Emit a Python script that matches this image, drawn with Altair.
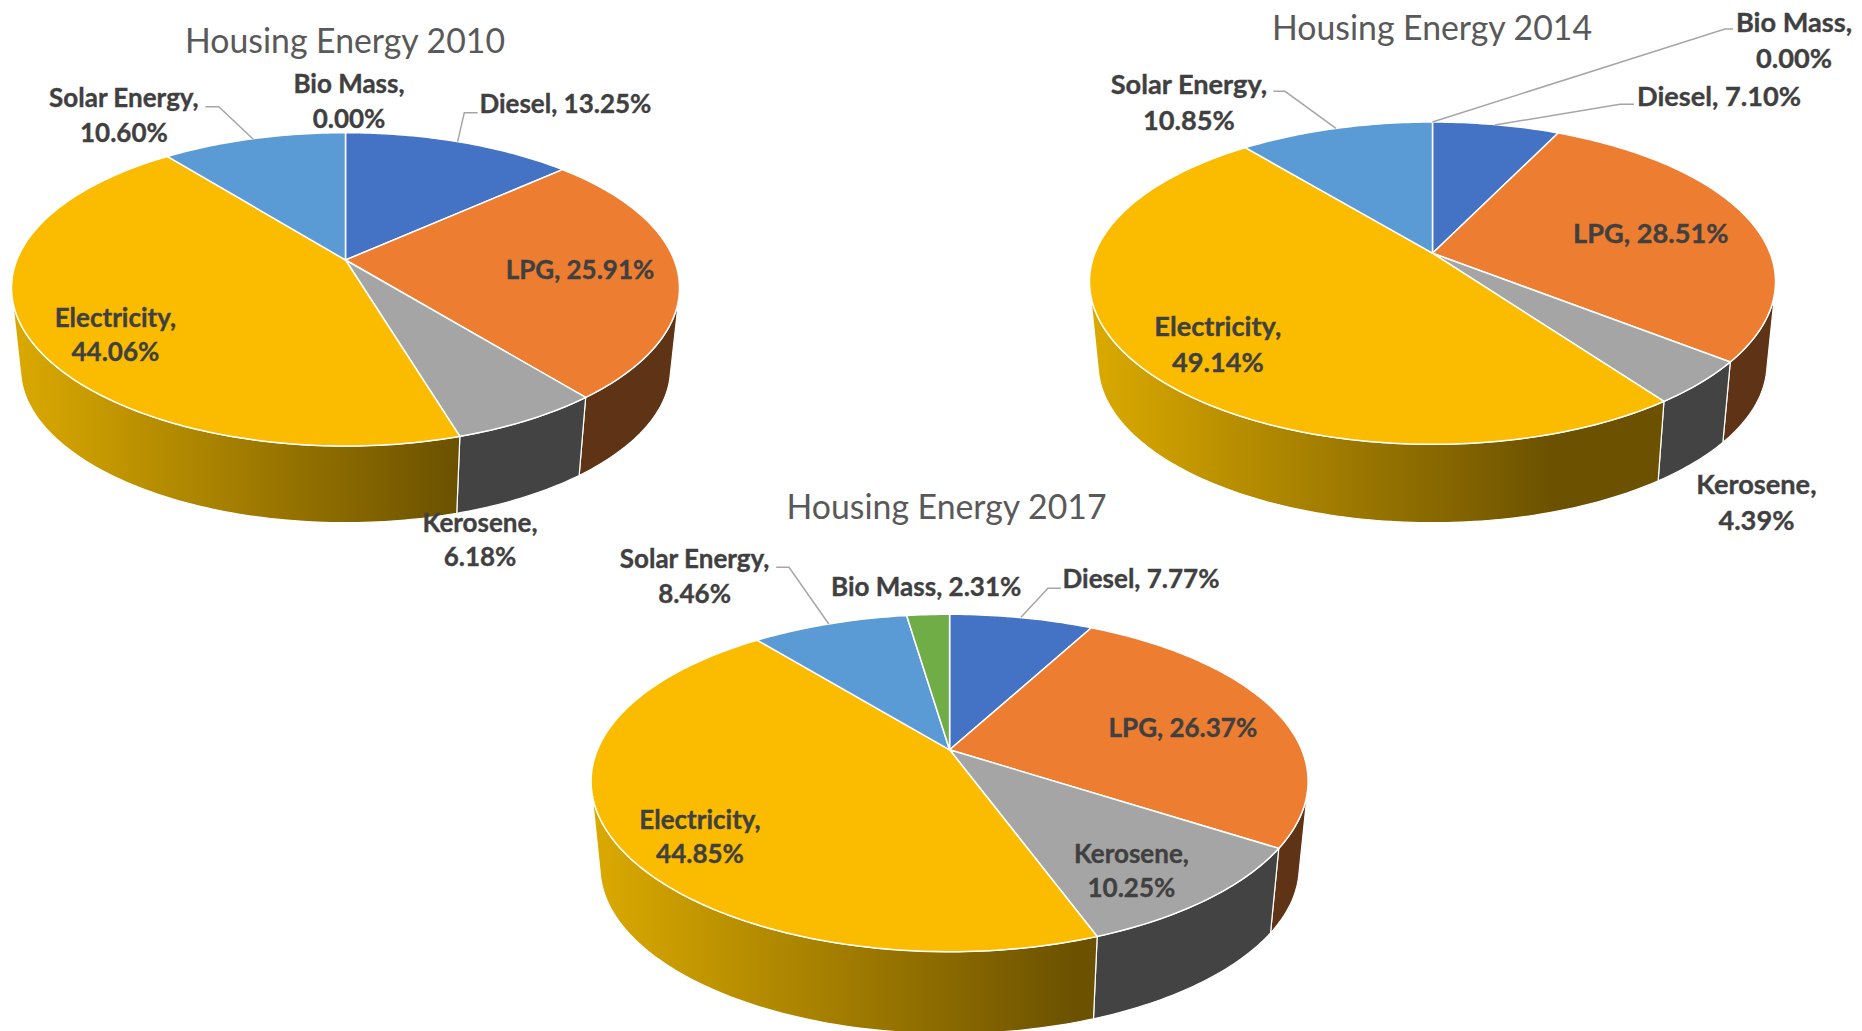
import math
import altair as alt

categories = ["Diesel", "LPG", "Kerosene", "Electricity", "Solar Energy", "Bio Mass"]
v2010 = [13.25, 25.91, 6.18, 44.06, 10.60, 0.00]
v2014 = [7.10, 28.51, 4.39, 49.14, 10.85, 0.00]
v2017 = [7.77, 26.37, 10.25, 44.85, 8.46, 2.31]
top_colors = ["#4472C4", "#ED7D31", "#A5A5A5", "#FBBC00", "#5B9BD5", "#70AD47"]
wall_colors = ["#223962", "#5F3315", "#434343", "#B58A00", "#2E4E6B", "#385723"]

# geometry of the three tilted pies, in page pixels
pies = [
    dict(values=v2010, ax=345.5, ay=260.0, top=132.7, bot=446.0, hw=334.0, f=0.973, dy=81.7, dark=0.68),
    dict(values=v2014, ax=1432.5, ay=253.2, top=122.0, bot=444.3, hw=343.0, f=0.975, dy=83.2, dark=0.68),
    dict(values=v2017, ax=949.6, ay=749.8, top=614.3, bot=951.7, hw=358.5, f=0.975, dy=87.0, dark=0.68),
]

titles = ["Housing Energy 2010", "Housing Energy 2014", "Housing Energy 2017"]
title_x = [345, 1432, 946.5]
title_y = [53, 40, 519]

labels_2010 = ["Solar Energy,\n10.60%", "Bio Mass,\n0.00%", "Diesel, 13.25%", "LPG, 25.91%", "Electricity,\n44.06%", "Kerosene,\n6.18%"]
labels_2014 = ["Solar Energy,\n10.85%", "Bio Mass,\n0.00%", "Diesel, 7.10%", "LPG, 28.51%", "Electricity,\n49.14%", "Kerosene,\n4.39%"]
labels_2017 = ["Solar Energy,\n8.46%", "Bio Mass, 2.31%", "Diesel, 7.77%", "LPG, 26.37%", "Electricity,\n44.85%", "Kerosene,\n10.25%"]
x_2010 = [123.9, 349, 565.4, 580, 115.4, 480]
x_2014 = [1188.9, 1794.0, 1719, 1650.8, 1217.8, 1756.4]
x_2017 = [694.6, 926.2, 1141, 1182.9, 700, 1131.4]
y_2010 = [107, 93.3, 112.7, 278.5, 326.7, 531.7]
y_2014 = [93.5, 31.5, 106, 243.3, 336, 493.5]
y_2017 = [568.3, 596, 588.3, 736.7, 828.7, 862.7]
label_groups = [
    (labels_2010, x_2010, y_2010, 26.0, 34.5),
    (labels_2014, x_2014, y_2014, 27.2, 36.0),
    (labels_2017, x_2017, y_2017, 26.0, 34.5),
]

leaders = [
    [(205.4, 106.7), (218.8, 106.7), (253, 139)],
    [(477.7, 112.7), (464.3, 112.7), (457.6, 141.7)],
    [(1273.3, 91.3), (1285, 91.3), (1336, 128.3)],
    [(1733, 29), (1725, 29), (1432.4, 122)],
    [(1634, 104.3), (1620, 104.3), (1494.8, 125)],
    [(776.2, 567.3), (789, 567.3), (828.8, 624)],
    [(1060.9, 588.3), (1048, 588.3), (1021, 617.3)],
]


def rim_point(p, angle):
    T = p["ay"] - p["top"]
    B = p["bot"] - p["ay"]
    c = (B - T) / (B + T)
    b = T * (1 + c)
    cx = 0.95 * c
    R = p["hw"] * math.sqrt(1 - cx * cx)
    u, v = math.sin(angle), math.cos(angle)
    return R * u / (1 + cx * v), -b * v / (1 + c * v)


def angles(a0, a1):
    n = max(2, int(math.degrees(a1 - a0)) + 1)
    return [a0 + (a1 - a0) * i / n for i in range(n + 1)]


def is_front(p, angle):
    """True where the side wall faces the viewer (rim tangent against extrusion)."""
    e = 1e-3
    x0, y0 = rim_point(p, angle - e)
    x1, y1 = rim_point(p, angle + e)
    xm, ym = rim_point(p, angle)
    sx = (p["f"] - 1) * xm
    sy = p["dy"] + (p["f"] - 1) * ym
    return (x1 - x0) * sy - (y1 - y0) * sx < 0


def feature(ring, fill):
    ring = [[round(x, 2), round(y, 2)] for x, y in ring]
    ring.append(ring[0])
    return {"type": "Feature", "properties": {"fill": fill},
            "geometry": {"type": "Polygon", "coordinates": [ring]}}


def pix(chart):
    return chart.project(type="identity", scale=1, translate=[-8, -8])


layers = []

for p in pies:
    total = sum(p["values"])
    a = 0.0
    walls, faces = [], []
    gold_wall = None
    for value, top_c, wall_c in zip(p["values"], top_colors, wall_colors):
        if value <= 0:
            continue
        a1 = a + 2 * math.pi * value / total
        ts = angles(a, a1)
        rim = [rim_point(p, t) for t in ts]
        upper = [(p["ax"] + x, p["ay"] + y) for x, y in rim]
        faces.append(feature([(p["ax"], p["ay"])] + upper, top_c))
        front = [rim_point(p, t) for t in ts if is_front(p, t)]
        if len(front) >= 2:
            up = [(p["ax"] + x, p["ay"] + y) for x, y in front]
            lo = [(p["ax"] + p["f"] * x, p["ay"] + p["dy"] + p["f"] * y) for x, y in front]
            wall = feature(up + lo[::-1], wall_c)
            if wall_c == "#B58A00":
                gold_wall = wall
                bbox_w = max(q[0] for q in up + lo) - min(q[0] for q in up + lo)
            else:
                walls.append(wall)
        a = a1
    stop = min(1.0, p["dark"] * 2 * p["hw"] / bbox_w)
    grad = alt.LinearGradient(
        gradient="linear", x1=0, x2=1, y1=0, y2=0,
        stops=[alt.GradientStop(color="#DBAA00", offset=0),
               alt.GradientStop(color="#6B5100", offset=stop),
               alt.GradientStop(color="#6B5100", offset=1)],
    )
    layers.append(pix(
        alt.Chart(alt.Data(values=walls)).mark_geoshape(stroke="white", strokeWidth=1.2)
        .encode(fill=alt.Fill("properties.fill:N", scale=None))
    ))
    layers.append(pix(
        alt.Chart(alt.Data(values=[gold_wall])).mark_geoshape(fill=grad, stroke="white", strokeWidth=1.2)
    ))
    layers.append(pix(
        alt.Chart(alt.Data(values=faces)).mark_geoshape(stroke="white", strokeWidth=1.5)
        .encode(fill=alt.Fill("properties.fill:N", scale=None))
    ))

x_enc = alt.X("x:Q", axis=None, scale=alt.Scale(domain=[8, 1854], range=[0, 1846]))
y_enc = alt.Y("y:Q", axis=None, scale=alt.Scale(domain=[8, 1031], range=[0, 1023]))

line_rows = [{"id": i, "k": k, "x": x, "y": y}
             for i, pts in enumerate(leaders) for k, (x, y) in enumerate(pts)]
layers.append(
    alt.Chart(alt.Data(values=line_rows)).mark_line(color="#A6A6A6", strokeWidth=1.5)
    .encode(x=x_enc, y=y_enc, detail="id:N", order="k:Q")
)

for texts, xs, ys, size, lh in label_groups:
    rows = [{"t": t, "x": x, "y": y} for t, x, y in zip(texts, xs, ys)]
    layers.append(
        alt.Chart(alt.Data(values=rows))
        .mark_text(font="Lato", fontWeight="bold", fontSize=size, color="#404040",
                   stroke="#404040", strokeWidth=0.35,
                   align="center", baseline="alphabetic", lineBreak="\n", lineHeight=lh)
        .encode(x=x_enc, y=y_enc, text="t:N")
    )

title_rows = [{"t": t, "x": x, "y": y} for t, x, y in zip(titles, title_x, title_y)]
layers.append(
    alt.Chart(alt.Data(values=title_rows))
    .mark_text(font="Lato", fontSize=33.8, color="#595959", align="center", baseline="alphabetic")
    .encode(x=x_enc, y=y_enc, text="t:N")
)

chart = (
    alt.layer(*layers)
    .properties(width=1846, height=1023, padding=0, autosize=alt.AutoSizeParams(type="none"))
    .configure_view(stroke=None)
)
chart.save("out.html", embed_options={"renderer": "svg", "actions": False})
